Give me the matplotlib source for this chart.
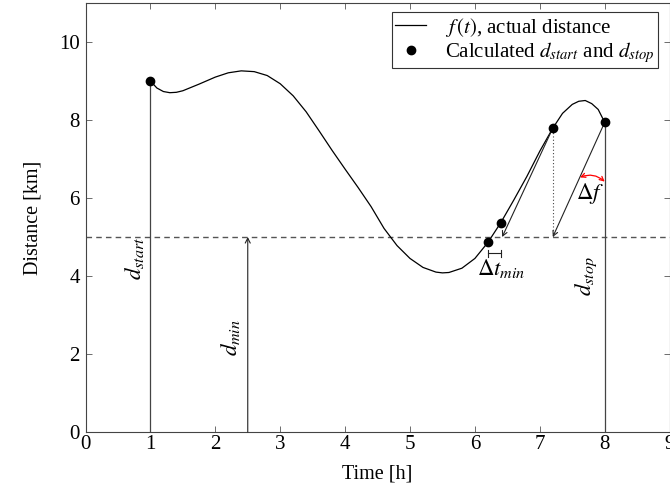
import matplotlib
matplotlib.use("Agg")
import matplotlib.pyplot as plt

plt.rcParams['font.family'] = ['Liberation Serif', 'DejaVu Serif']
plt.rcParams['mathtext.fontset'] = 'stix'

# curve f(t)
t_curve = [1.0, 1.1, 1.2, 1.3, 1.4, 1.5, 1.75, 2.0, 2.2, 2.4, 2.6, 2.8, 3.0, 3.2,
           3.4, 3.6, 3.8, 4.0, 4.2, 4.4, 4.6, 4.8, 5.0, 5.2, 5.4, 5.5, 5.6, 5.8,
           6.0, 6.2, 6.4, 6.6, 6.8, 7.0, 7.2, 7.35, 7.5, 7.6, 7.7, 7.8, 7.9, 8.0]
d_curve = [9.0, 8.82, 8.73, 8.70, 8.71, 8.75, 8.92, 9.10, 9.21, 9.26, 9.24, 9.14, 8.93, 8.62,
           8.21, 7.72, 7.22, 6.74, 6.27, 5.78, 5.22, 4.78, 4.45, 4.22, 4.10, 4.08, 4.09, 4.20,
           4.45, 4.86, 5.37, 5.95, 6.55, 7.2, 7.79, 8.17, 8.40, 8.48, 8.50, 8.42, 8.27, 7.94]

# calculated points
t_pts = [1.0, 6.2, 6.4, 7.2, 8.0]
d_pts = [9.0, 4.86, 5.37, 7.79, 7.94]

d_min = 5.0
t_dmin = 2.5
t_start, d_start = 1.0, 9.0
t_stop, d_stop = 8.0, 7.94

xticks = [0, 1, 2, 3, 4, 5, 6, 7, 8, 9]
yticks = [0, 2, 4, 6, 8, 10]

W, H = 670, 493
fig = plt.figure(figsize=(W / 100, H / 100), dpi=100)
ax = fig.add_axes([85.5 / W, 1 - 432 / H, (669.6 - 85.5) / W, 429 / H])

ax.set_xlim(0, 9)
ax.set_ylim(0, 11)
ax.set_xticks(xticks)
ax.set_yticks(yticks)
ax.tick_params(direction='in', top=True, right=True, length=4, width=0.6,
               colors='#555555', labelcolor='black', labelsize=15)
ax.tick_params(axis='x', pad=2.5)
ax.tick_params(axis='y', pad=4)
for s in ax.spines.values():
    s.set_color('#444444')
    s.set_linewidth(0.8)

ax.set_xlabel('Time [h]', fontsize=14.5, labelpad=7)
ax.set_ylabel('Distance [km]', fontsize=14.5, labelpad=12)

# dashed min line
ax.axhline(d_min, color='#555555', lw=1.0, ls=(0, (4, 3)), zorder=1)

# vertical lines
ax.plot([t_start, t_start], [0, d_start], color='#444444', lw=0.9)
ax.plot([t_stop, t_stop], [0, d_stop], color='#444444', lw=0.9)

arr = dict(arrowstyle='->,head_length=0.35,head_width=0.18', lw=0.8,
           color='#222222', shrinkA=0, shrinkB=0)
ax.annotate('', xy=(t_dmin, d_min), xytext=(t_dmin, 0), arrowprops=arr)

# curve
ax.plot(t_curve, d_curve, color='black', lw=0.9, label=r'$f\,(t)$, actual distance', zorder=3)
ax.plot(t_pts, d_pts, 'o', color='black', ms=6, ls='none', zorder=4,
        label=r'Calculated $d_{start}$ and $d_{stop}$')

# tangent arrows
ax.annotate('', xy=(6.42, d_min), xytext=(t_pts[3], d_pts[3]), arrowprops=arr)
ax.annotate('', xy=(t_pts[3], d_min), xytext=(t_pts[4], d_pts[4]), arrowprops=arr)
ax.plot([t_pts[3], t_pts[3]], [d_min, d_pts[3]], color='#444444', lw=0.8, ls=(0, (1, 2)))

# delta f arc
ax.annotate('', xy=(8.0, 6.42), xytext=(7.62, 6.53),
            arrowprops=dict(arrowstyle='<->,head_length=0.3,head_width=0.15', lw=0.9,
                            color='red', shrinkA=0, shrinkB=0,
                            connectionstyle='arc3,rad=-0.3'))
ax.text(7.77, 6.12, r'$\Delta f$', fontsize=16.5, ha='center', va='center')

# delta t_min bracket
ax.plot([t_pts[1], t_pts[2]], [4.58, 4.58], color='#222222', lw=0.8)
ax.plot([t_pts[1], t_pts[1]], [4.49, 4.67], color='#222222', lw=0.8)
ax.plot([t_pts[2], t_pts[2]], [4.49, 4.67], color='#222222', lw=0.8)
ax.text(6.41, 4.2, r'$\Delta t_{min}$', fontsize=16.5, ha='center', va='center')

# rotated labels
ax.text(0.76, 4.46, r'$d_{start}$', fontsize=16.5, rotation=90, ha='center', va='center')
ax.text(2.24, 2.43, r'$d_{min}$', fontsize=16.5, rotation=90, ha='center', va='center')
ax.text(7.72, 4.0, r'$d_{stop}$', fontsize=16.5, rotation=90, ha='center', va='center')

leg = ax.legend(loc='upper right', bbox_to_anchor=(0.980, 0.978), borderaxespad=0,
                fancybox=False, edgecolor='#333333', framealpha=1, fontsize=15,
                handlelength=1.5, borderpad=0.15, labelspacing=0.05, handletextpad=0.9)
leg.get_frame().set_linewidth(0.8)

fig.savefig('out.png', dpi=100)
